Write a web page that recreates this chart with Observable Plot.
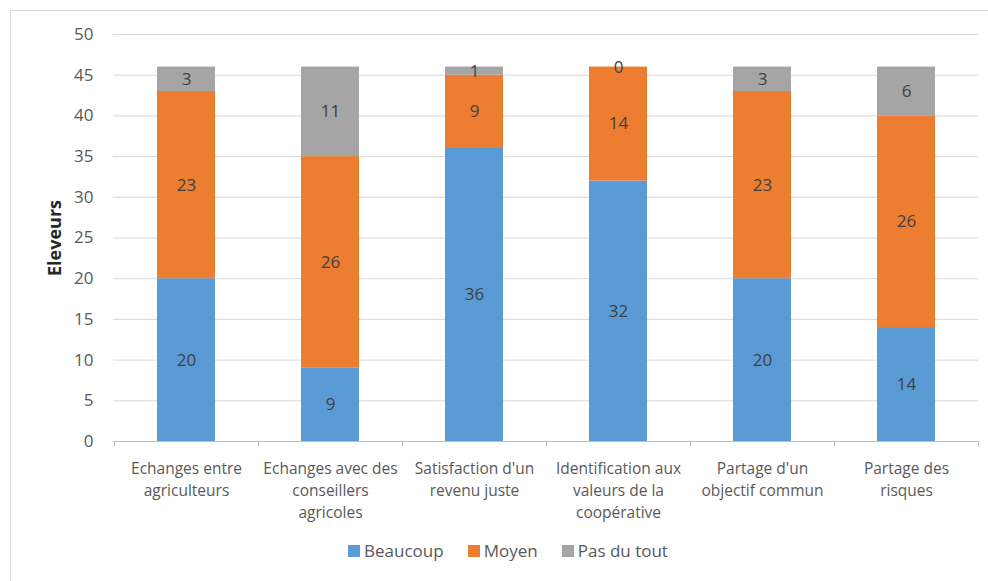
<!DOCTYPE html>
<html>
<head>
<meta charset="utf-8">
<script src="https://cdn.jsdelivr.net/npm/d3@7"></script>
<script src="https://cdn.jsdelivr.net/npm/@observablehq/plot@0.6"></script>
<style>
  html, body { margin: 0; padding: 0; background: #fff; }
  #wrap { position: relative; width: 988px; height: 581px; overflow: hidden; font-family: "Open Sans", sans-serif; }
  #frame { position: absolute; left: 10px; top: 10px; width: 1000px; height: 600px; border: 1px solid #d9d9d9; box-sizing: border-box; }
  #chart { position: absolute; left: 0; top: 0; }
  #legend { position: absolute; left: 0; width: 1016px; top: 539px; display: flex; justify-content: center; gap: 24px; font-size: 17px; color: #595959; }
  .sw { display: inline-flex; align-items: center; gap: 4px; }
  .sq { width: 12px; height: 12px; display: inline-block; }
</style>
</head>
<body>
<div id="wrap">
  <div id="frame"></div>
  <div id="chart"></div>
  <div id="legend"></div>
</div>
<script>
const categories = [
  "Echanges entre agriculteurs",
  "Echanges avec des conseillers agricoles",
  "Satisfaction d'un revenu juste",
  "Identification aux valeurs de la coopérative",
  "Partage d'un objectif commun",
  "Partage des risques"
];
const tickLabels = [
  "Echanges entre\nagriculteurs",
  "Echanges avec des\nconseillers\nagricoles",
  "Satisfaction d'un\nrevenu juste",
  "Identification aux\nvaleurs de la\ncoopérative",
  "Partage d'un\nobjectif commun",
  "Partage des\nrisques"
];
const seriesNames = ["Beaucoup", "Moyen", "Pas du tout"];
const seriesColors = ["#5b9bd5", "#ed7d31", "#a5a5a5"];
const beaucoup = [20, 9, 36, 32, 20, 14];
const moyen = [23, 26, 9, 14, 23, 26];
const pasDuTout = [3, 11, 1, 0, 3, 6];
const yTicks = [0, 5, 10, 15, 20, 25, 30, 35, 40, 45, 50];
const yLabel = "Eleveurs";

const seriesValues = [beaucoup, moyen, pasDuTout];
const rows = [];
seriesNames.forEach((s, si) => {
  categories.forEach((c, ci) => rows.push({cat: c, series: s, value: seriesValues[si][ci]}));
});
const labelOf = new Map(categories.map((c, i) => [c, tickLabels[i]]));

const W = 988, H = 581, mL = 113, mR = 10, mT = 34, mB = 140;
const step = (W - mL - mR) / categories.length;

const plot = Plot.plot({
  width: W,
  height: H,
  marginLeft: mL,
  marginRight: mR,
  marginTop: mT,
  marginBottom: mB,
  style: {fontFamily: "'Open Sans', sans-serif", fontSize: "15px", color: "#595959", background: "transparent"},
  x: {domain: categories, paddingInner: 0.6, paddingOuter: 0.3, label: null},
  y: {domain: [0, 50], ticks: yTicks, label: null},
  color: {domain: seriesNames, range: seriesColors},
  marks: [
    Plot.gridY(yTicks, {stroke: "#d9d9d9", strokeOpacity: 1, strokeWidth: 1}),
    Plot.barY(rows, {x: "cat", y: "value", fill: "series", z: "series", order: seriesNames}),
    Plot.ruleY([0], {stroke: "#bfbfbf", strokeWidth: 1}),
    Plot.ruleX(categories, {x: d => d, dx: -step / 2, y1: 0, y2: -0.7, stroke: "#bfbfbf"}),
    Plot.ruleX(categories.slice(-1), {x: d => d, dx: step / 2, y1: 0, y2: -0.7, stroke: "#bfbfbf"}),
    Plot.text(rows, Plot.stackY({x: "cat", y: "value", z: "series", order: seriesNames, text: d => String(d.value), fill: "#404040", fontSize: 17})),
    Plot.axisY(yTicks, {tickSize: 0, tickPadding: 20, fontSize: 17, fill: "#595959", label: null}),
    Plot.axisX({tickSize: 0, tickPadding: 17, fontSize: 15.5, fill: "#595959", lineHeight: 1.42, tickFormat: d => labelOf.get(d), label: null}),
    Plot.text([yLabel], {frameAnchor: "left", textAnchor: "middle", dx: -58, rotate: -90, text: d => d, fontWeight: "bold", fontSize: 18, fill: "#262626"})
  ]
});
document.getElementById("chart").appendChild(plot);

const legend = document.getElementById("legend");
seriesNames.forEach((s, i) => {
  const item = document.createElement("span");
  item.className = "sw";
  const sq = document.createElement("span");
  sq.className = "sq";
  sq.style.background = seriesColors[i];
  item.appendChild(sq);
  item.appendChild(document.createTextNode(s));
  legend.appendChild(item);
});
</script>
</body>
</html>
